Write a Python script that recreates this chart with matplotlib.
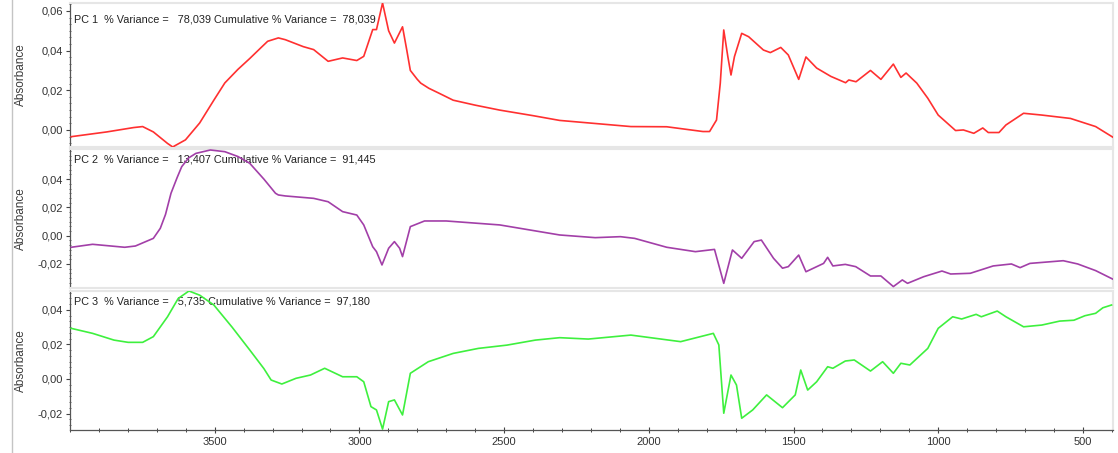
import matplotlib
matplotlib.use("Agg")
import matplotlib.pyplot as plt
from matplotlib.ticker import MultipleLocator, FixedLocator, FuncFormatter
from matplotlib.lines import Line2D

plt.rcParams['font.family'] = ['Liberation Sans', 'DejaVu Sans']

# loadings of the three principal components (wavenumber in cm-1, absorbance)
pc1_wn = [3996, 3873, 3780, 3749, 3712, 3663, 3645, 3638, 3601, 3552, 3503, 3465, 3420, 3379,
          3340, 3317, 3280, 3256, 3194, 3158, 3108, 3058, 3009, 2985, 2954, 2941, 2920, 2899,
          2879, 2851, 2836, 2824, 2800, 2788, 2760, 2726, 2676, 2600, 2515, 2400, 2308, 2062,
          1938, 1813, 1790, 1766, 1753, 1741, 1727, 1716, 1704, 1679, 1655, 1604, 1580, 1544,
          1518, 1482, 1457, 1420, 1371, 1320, 1309, 1284, 1234, 1198, 1155, 1129, 1111, 1074,
          1036, 1000, 940, 913, 877, 846, 827, 790, 766, 705, 642, 543, 456, 396]
pc1_val = [-0.0034, -0.0010, 0.0012, 0.0017, -0.0010, -0.0068, -0.0086, -0.0080, -0.0050,
           0.0035, 0.0150, 0.0237, 0.0305, 0.0360, 0.0415, 0.0447, 0.0464, 0.0455, 0.0420,
           0.0405, 0.0346, 0.0363, 0.0350, 0.0371, 0.0506, 0.0506, 0.0640, 0.0500, 0.0438,
           0.0520, 0.0400, 0.0300, 0.0255, 0.0236, 0.0210, 0.0186, 0.0150, 0.0125, 0.0100,
           0.0072, 0.0048, 0.0017, 0.0016, -0.0008, -0.0008, 0.0050, 0.0236, 0.0504, 0.0370,
           0.0277, 0.0370, 0.0487, 0.0470, 0.0403, 0.0390, 0.0416, 0.0378, 0.0255, 0.0368,
           0.0312, 0.0270, 0.0238, 0.0252, 0.0243, 0.0300, 0.0255, 0.0332, 0.0265, 0.0287,
           0.0236, 0.0160, 0.0075, -0.0003, 0.0000, -0.0017, 0.0010, -0.0013, -0.0013, 0.0025,
           0.0084, 0.0075, 0.0058, 0.0017, -0.0037]

pc2_wn = [3996, 3922, 3811, 3774, 3712, 3688, 3670, 3651, 3630, 3614, 3590, 3565, 3515, 3465,
          3420, 3379, 3330, 3290, 3280, 3256, 3158, 3108, 3058, 3009, 2985, 2954, 2941, 2922,
          2899, 2879, 2861, 2851, 2824, 2775, 2700, 2515, 2308, 2185, 2098, 2049, 1938, 1839,
          1773, 1741, 1711, 1679, 1636, 1611, 1569, 1538, 1518, 1482, 1457, 1396, 1382, 1364,
          1321, 1285, 1234, 1198, 1155, 1124, 1106, 1050, 987, 957, 889, 810, 747, 717, 683,
          568, 518, 456, 396]
pc2_val = [-0.0082, -0.0061, -0.0082, -0.0073, -0.0019, 0.0052, 0.0150, 0.0300, 0.0410,
           0.0488, 0.0550, 0.0582, 0.0606, 0.0594, 0.0560, 0.0512, 0.0400, 0.0300, 0.0288,
           0.0281, 0.0264, 0.0240, 0.0170, 0.0146, 0.0076, -0.0078, -0.0113, -0.0207, -0.0089,
           -0.0042, -0.0089, -0.0148, 0.0064, 0.0104, 0.0104, 0.0076, 0.0005, -0.0014, -0.0007,
           -0.0019, -0.0082, -0.0113, -0.0097, -0.0337, -0.0101, -0.0160, -0.0042, -0.0031,
           -0.0160, -0.0230, -0.0219, -0.0137, -0.0255, -0.0196, -0.0153, -0.0214, -0.0203,
           -0.0219, -0.0285, -0.0285, -0.0360, -0.0313, -0.0337, -0.0290, -0.0250, -0.0271,
           -0.0266, -0.0214, -0.0200, -0.0226, -0.0196, -0.0177, -0.0200, -0.0247, -0.0308]

pc3_wn = [3996, 3922, 3848, 3799, 3749, 3712, 3663, 3626, 3589, 3552, 3503, 3440, 3379, 3330,
          3305, 3268, 3219, 3169, 3120, 3058, 3009, 2985, 2960, 2941, 2920, 2899, 2879, 2851,
          2824, 2762, 2676, 2589, 2490, 2392, 2308, 2209, 2062, 1890, 1777, 1758, 1741, 1716,
          1697, 1679, 1641, 1593, 1538, 1494, 1475, 1451, 1420, 1382, 1364, 1321, 1290, 1234,
          1192, 1155, 1129, 1098, 1036, 1000, 950, 919, 869, 851, 796, 766, 705, 642, 580, 531,
          493, 456, 431, 401]
pc3_val = [0.0293, 0.0264, 0.0225, 0.0212, 0.0212, 0.0245, 0.0360, 0.0466, 0.0509, 0.0485,
           0.0428, 0.0300, 0.0168, 0.0060, -0.0006, -0.0029, 0.0004, 0.0023, 0.0062, 0.0013,
           0.0013, -0.0016, -0.0160, -0.0179, -0.0290, -0.0131, -0.0121, -0.0208, 0.0033,
           0.0100, 0.0148, 0.0177, 0.0196, 0.0225, 0.0239, 0.0231, 0.0254, 0.0216, 0.0264,
           0.0197, -0.0198, 0.0023, -0.0035, -0.0227, -0.0179, -0.0092, -0.0166, -0.0092,
           0.0052, -0.0064, -0.0016, 0.0071, 0.0062, 0.0104, 0.0110, 0.0046, 0.0100, 0.0033,
           0.0091, 0.0081, 0.0177, 0.0293, 0.0360, 0.0347, 0.0374, 0.0360, 0.0393, 0.0360,
           0.0302, 0.0312, 0.0335, 0.0340, 0.0366, 0.0380, 0.0412, 0.0428]

pc_names = ['PC 1', 'PC 2', 'PC 3']
pc_variance = ['78,039', '13,407', '5,735']
pc_cumulative = ['78,039', '91,445', '97,180']
pc_colors = ['#ff3030', '#a23fa8', '#3ef03e']
pc_ylims = [(-0.0086, 0.0640), (-0.0370, 0.0613), (-0.0295, 0.0509)]
pc_yticks = [[0.0, 0.02, 0.04, 0.06], [-0.02, 0.0, 0.02, 0.04], [-0.02, 0.0, 0.02, 0.04]]
x_ticks = [3500, 3000, 2500, 2000, 1500, 1000, 500]

W, H = 1118, 453
fig = plt.figure(figsize=(W / 100, H / 100), dpi=100)
fig.patch.set_facecolor('white')

# panel rows in pixels from the top: (top, bottom)
rows = [(3, 147), (149, 288), (291, 430)]
left_px, right_px = 70, 1113
text_offset = [16, 11, 10]

series = [(pc1_wn, pc1_val), (pc2_wn, pc2_val), (pc3_wn, pc3_val)]


def comma_fmt(v, pos):
    s = '%.2f' % v
    if s == '-0.00':
        s = '0.00'
    return s.replace('.', ',')


axes = []
for i, (top, bot) in enumerate(rows):
    ax = fig.add_axes([left_px / W, 1 - bot / H, (right_px - left_px) / W, (bot - top) / H])
    wn, val = series[i]
    ax.plot(wn, val, color=pc_colors[i], lw=1.2, zorder=3)
    ax.set_xlim(4000, 396)
    ax.set_ylim(*pc_ylims[i])

    ax.yaxis.set_major_locator(FixedLocator(pc_yticks[i]))
    ax.yaxis.set_minor_locator(MultipleLocator(0.02 / 6))
    ax.yaxis.set_major_formatter(FuncFormatter(comma_fmt))
    ax.tick_params(axis='y', which='major', direction='out', length=3, width=0.8,
                   color='#444444', labelsize=8, labelcolor='#333333', pad=2)
    ax.tick_params(axis='y', which='minor', direction='inout', length=2, width=0.6,
                   color='#555555')

    for side in ['top', 'bottom', 'right']:
        ax.spines[side].set_color('#e6e6e6')
        ax.spines[side].set_linewidth(1.5)
    ax.spines['left'].set_color('#555555')
    ax.spines['left'].set_linewidth(0.9)

    ax.set_ylabel('Absorbance', fontsize=8.5, color='#3a3a3a')
    ax.yaxis.set_label_coords(-0.041, 0.5)

    ax.annotate('%s  %% Variance =   %s Cumulative %% Variance =  %s'
                % (pc_names[i], pc_variance[i], pc_cumulative[i]),
                xy=(0, 1), xycoords='axes fraction', xytext=(4, -text_offset[i]),
                textcoords='offset pixels', va='center', ha='left',
                fontsize=7.8, color='#222222', zorder=1)

    ax.xaxis.set_major_locator(MultipleLocator(500))
    ax.xaxis.set_minor_locator(MultipleLocator(100))
    if i < 2:
        ax.tick_params(axis='x', which='both', bottom=False, labelbottom=False)
    axes.append(ax)

# bottom x axis
ax = axes[-1]
ax.set_xticks(x_ticks)
ax.xaxis.set_minor_locator(MultipleLocator(100))
ax.spines['bottom'].set_color('#555555')
ax.spines['bottom'].set_linewidth(0.9)
ax.tick_params(axis='x', which='major', direction='inout', length=4, width=0.8,
               color='#444444', labelsize=8, labelcolor='#333333', pad=3)
ax.tick_params(axis='x', which='minor', direction='inout', length=2.5, width=0.7,
               color='#444444')

# thin frame line on the left of the window
fig.add_artist(Line2D([12 / W, 12 / W], [0, 1], transform=fig.transFigure,
                      color='#c4c4c4', lw=1))

fig.savefig('out.png', dpi=100)
